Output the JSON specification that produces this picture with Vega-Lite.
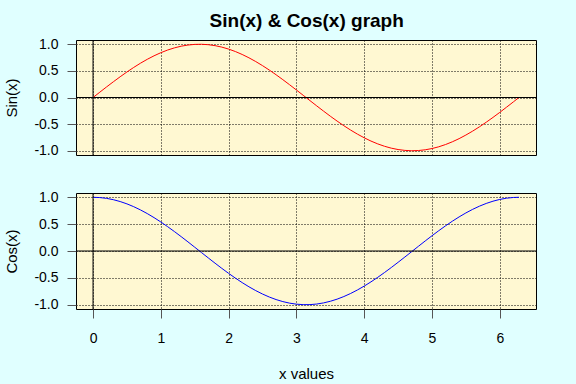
{
  "$schema": "https://vega.github.io/schema/vega-lite/v6.json",
  "background": "#E0FFFF",
  "padding": {"left": 4, "top": 11, "right": 39, "bottom": 2},
  "title": {"text": "Sin(x) & Cos(x) graph", "fontSize": 19, "fontWeight": "bold", "font": "Liberation Sans", "color": "black", "anchor": "middle", "offset": 6, "dx": 36},
  "data": {"values": [
    {"x": 0.0, "s": 0.0, "c": 1.0},
    {"x": 0.1, "s": 0.0998, "c": 0.995},
    {"x": 0.2, "s": 0.1987, "c": 0.9801},
    {"x": 0.3, "s": 0.2955, "c": 0.9553},
    {"x": 0.4, "s": 0.3894, "c": 0.9211},
    {"x": 0.5, "s": 0.4794, "c": 0.8776},
    {"x": 0.6, "s": 0.5646, "c": 0.8253},
    {"x": 0.7, "s": 0.6442, "c": 0.7648},
    {"x": 0.8, "s": 0.7174, "c": 0.6967},
    {"x": 0.9, "s": 0.7833, "c": 0.6216},
    {"x": 1.0, "s": 0.8415, "c": 0.5403},
    {"x": 1.1, "s": 0.8912, "c": 0.4536},
    {"x": 1.2, "s": 0.932, "c": 0.3624},
    {"x": 1.3, "s": 0.9636, "c": 0.2675},
    {"x": 1.4, "s": 0.9854, "c": 0.17},
    {"x": 1.5, "s": 0.9975, "c": 0.0707},
    {"x": 1.6, "s": 0.9996, "c": -0.0292},
    {"x": 1.7, "s": 0.9917, "c": -0.1288},
    {"x": 1.8, "s": 0.9738, "c": -0.2272},
    {"x": 1.9, "s": 0.9463, "c": -0.3233},
    {"x": 2.0, "s": 0.9093, "c": -0.4161},
    {"x": 2.1, "s": 0.8632, "c": -0.5048},
    {"x": 2.2, "s": 0.8085, "c": -0.5885},
    {"x": 2.3, "s": 0.7457, "c": -0.6663},
    {"x": 2.4, "s": 0.6755, "c": -0.7374},
    {"x": 2.5, "s": 0.5985, "c": -0.8011},
    {"x": 2.6, "s": 0.5155, "c": -0.8569},
    {"x": 2.7, "s": 0.4274, "c": -0.9041},
    {"x": 2.8, "s": 0.335, "c": -0.9422},
    {"x": 2.9, "s": 0.2392, "c": -0.971},
    {"x": 3.0, "s": 0.1411, "c": -0.99},
    {"x": 3.1, "s": 0.0416, "c": -0.9991},
    {"x": 3.2, "s": -0.0584, "c": -0.9983},
    {"x": 3.3, "s": -0.1577, "c": -0.9875},
    {"x": 3.4, "s": -0.2555, "c": -0.9668},
    {"x": 3.5, "s": -0.3508, "c": -0.9365},
    {"x": 3.6, "s": -0.4425, "c": -0.8968},
    {"x": 3.7, "s": -0.5298, "c": -0.8481},
    {"x": 3.8, "s": -0.6119, "c": -0.791},
    {"x": 3.9, "s": -0.6878, "c": -0.7259},
    {"x": 4.0, "s": -0.7568, "c": -0.6536},
    {"x": 4.1, "s": -0.8183, "c": -0.5748},
    {"x": 4.2, "s": -0.8716, "c": -0.4903},
    {"x": 4.3, "s": -0.9162, "c": -0.4008},
    {"x": 4.4, "s": -0.9516, "c": -0.3073},
    {"x": 4.5, "s": -0.9775, "c": -0.2108},
    {"x": 4.6, "s": -0.9937, "c": -0.1122},
    {"x": 4.7, "s": -0.9999, "c": -0.0124},
    {"x": 4.8, "s": -0.9962, "c": 0.0875},
    {"x": 4.9, "s": -0.9825, "c": 0.1865},
    {"x": 5.0, "s": -0.9589, "c": 0.2837},
    {"x": 5.1, "s": -0.9258, "c": 0.378},
    {"x": 5.2, "s": -0.8835, "c": 0.4685},
    {"x": 5.3, "s": -0.8323, "c": 0.5544},
    {"x": 5.4, "s": -0.7728, "c": 0.6347},
    {"x": 5.5, "s": -0.7055, "c": 0.7087},
    {"x": 5.6, "s": -0.6313, "c": 0.7756},
    {"x": 5.7, "s": -0.5507, "c": 0.8347},
    {"x": 5.8, "s": -0.4646, "c": 0.8855},
    {"x": 5.9, "s": -0.3739, "c": 0.9275},
    {"x": 6.0, "s": -0.2794, "c": 0.9602},
    {"x": 6.1, "s": -0.1822, "c": 0.9833},
    {"x": 6.2, "s": -0.0831, "c": 0.9965},
    {"x": 6.2832, "s": 0.0, "c": 1.0}
  ]},
  "spacing": 30,
  "vconcat": [
    {
      "width": 460,
      "height": 115,
      "layer": [
        {
          "mark": {"type": "line", "color": "red", "strokeWidth": 1},
          "encoding": {
            "x": {"field": "x", "type": "quantitative", "scale": {"domain": [-0.2513, 6.5345], "nice": false, "zero": false},
                  "axis": {"title": null, "labels": false, "ticks": false, "domain": false, "labelPadding": 0, "values": [0, 1, 2, 3, 4, 5, 6]}},
            "y": {"field": "s", "type": "quantitative", "scale": {"domain": [-1.08, 1.08], "nice": false, "zero": false},
                  "axis": {"title": "Sin(x)", "values": [-1, -0.5, 0, 0.5, 1]}}
          }
        },
        {
          "data": {"values": [{"v": 0}]},
          "mark": {"type": "rule", "color": "black", "strokeWidth": 1},
          "encoding": {"y": {"field": "v", "type": "quantitative", "axis": {"title": "Sin(x)", "values": [-1, -0.5, 0, 0.5, 1]}}}
        },
        {
          "data": {"values": [{"v": 0}]},
          "mark": {"type": "rule", "color": "black", "strokeWidth": 1},
          "encoding": {"x": {"field": "v", "type": "quantitative", "axis": {"title": null, "labels": false, "ticks": false, "domain": false, "labelPadding": 0, "values": [0, 1, 2, 3, 4, 5, 6]}}}
        }
      ]
    },
    {
      "width": 460,
      "height": 116,
      "layer": [
        {
          "mark": {"type": "line", "color": "blue", "strokeWidth": 1},
          "encoding": {
            "x": {"field": "x", "type": "quantitative", "scale": {"domain": [-0.2513, 6.5345], "nice": false, "zero": false},
                  "axis": {"title": "x values", "values": [0, 1, 2, 3, 4, 5, 6], "format": "d", "labelPadding": 13, "titlePadding": 21}},
            "y": {"field": "c", "type": "quantitative", "scale": {"domain": [-1.08, 1.08], "nice": false, "zero": false},
                  "axis": {"title": "Cos(x)", "values": [-1, -0.5, 0, 0.5, 1]}}
          }
        },
        {
          "data": {"values": [{"v": 0}]},
          "mark": {"type": "rule", "color": "black", "strokeWidth": 1},
          "encoding": {"y": {"field": "v", "type": "quantitative", "axis": {"title": "Cos(x)", "values": [-1, -0.5, 0, 0.5, 1]}}}
        },
        {
          "data": {"values": [{"v": 0}]},
          "mark": {"type": "rule", "color": "black", "strokeWidth": 1},
          "encoding": {"x": {"field": "v", "type": "quantitative", "axis": {"title": "x values", "values": [0, 1, 2, 3, 4, 5, 6], "format": "d", "labelPadding": 13, "titlePadding": 21}}}
        }
      ]
    }
  ],
  "config": {
    "font": "Liberation Sans",
    "view": {"fill": "#FFF8D2", "stroke": "black", "strokeWidth": 1},
    "axis": {
      "domain": false,
      "tickColor": "#555",
      "tickSize": 9,
      "tickWidth": 1,
      "labelFontSize": 14,
      "labelColor": "black",
      "labelOverlap": false,
      "labelPadding": 9,
      "titleFontSize": 15,
      "titleFontWeight": "normal",
      "titleColor": "black",
      "grid": true,
      "gridColor": "black",
      "gridOpacity": 1,
      "gridDash": [1, 2],
      "gridWidth": 1
    },
    "axisY": {"titlePadding": 14, "labelAlign": "right", "labelExpr": "replace(format(datum.value, '.1f'), '\u2212', '-')"}
  }
}
